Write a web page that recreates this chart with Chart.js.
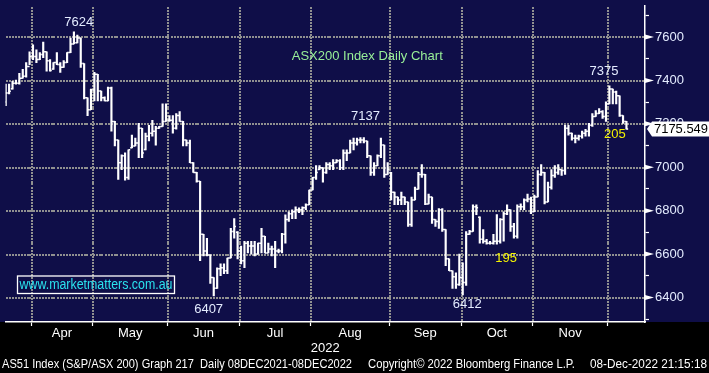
<!DOCTYPE html>
<html>
<head>
<meta charset="utf-8">
<script src="https://cdn.jsdelivr.net/npm/chart.js@4.4.0/dist/chart.umd.min.js"></script>
<style>
  body { margin: 0; background: #000; }
  canvas { display: block; }
</style>
</head>
<body>
<canvas id="chart" width="709" height="373"></canvas>
<script>
// daily bars, 22 Mar 2022 .. 8 Dec 2022
const opens = [
  7300,7342,7362,7387,7387,7410,7419,7464,
  7510,7510,7496,7519,7532,7491,7452,7482,7473,7460,7482,7528,7568,7573,7595,7478,7320,7265,
  7356,7428,7351,7320,7306,7365,7211,7125,7021,7053,6953,7090,7098,7112,7179,7082,7143,7157,7166,7179,7188,7211,
  7216,7216,7179,7238,7211,7125,7112,7021,6976,6935,6691,6614,6596,6492,6442,6532,6537,6523,6582,6704,6700,
  6614,6569,6650,6637,6637,6600,6650,6682,6605,6623,6623,6614,6614,6691,6759,6786,6795,6804,6804,6813,6827,
  6895,6953,6990,6998,6976,7012,7007,7021,7030,6998,7066,7066,7112,7112,7125,7125,7121,7053,6976,7007,7053,7102,6967,
  6976,6885,6863,6849,6863,6840,6736,6849,6899,6967,6967,6831,6863,6759,6750,6804,6713,6578,6523,6496,6460,
  6492,6469,6691,6704,6818,6770,6668,6659,6650,6650,6659,6659,6759,6786,6804,6727,6682,6818,6818,6849,6854,
  6795,6863,6967,6976,6840,6908,6962,6976,6989,6985,7179,7157,7134,7134,7143,7157,7166,7193,7234,7247,7256,7234,
  7292,7360,7347,7329,7238,7211
];
const highs = [
  7383,7383,7396,7401,7433,7451,7482,7532,
  7564,7541,7528,7577,7532,7496,7482,7528,7482,7491,7528,7595,7624,7609,7595,7478,7320,7360,
  7437,7428,7351,7324,7369,7369,7211,7125,7057,7066,7080,7148,7134,7202,7179,7157,7193,7216,7188,7188,7292,7292,
  7238,7238,7247,7256,7211,7125,7125,7021,6976,6935,6691,6673,6596,6492,6537,6555,6555,6582,6718,6763,6704,
  6637,6659,6659,6659,6659,6650,6718,6682,6650,6637,6659,6623,6695,6781,6795,6804,6818,6813,6818,6831,6895,
  6953,7007,7007,6998,7021,7021,7035,7035,7035,7080,7080,7125,7134,7134,7137,7137,7121,7053,7021,7057,7134,7102,7021,
  6976,6885,6863,6885,6863,6840,6863,6908,6976,7012,6967,6876,6863,6759,6809,6809,6713,6578,6523,6514,6600,
  6560,6704,6709,6827,6827,6772,6713,6668,6659,6691,6782,6763,6795,6827,6804,6741,6827,6831,6854,6876,6863,
  6872,6985,7012,6976,6931,6989,7007,7012,6989,7193,7193,7157,7148,7148,7166,7175,7202,7247,7261,7270,7261,7301,
  7375,7360,7351,7329,7238,7211
];
const lows = [
  7283,7338,7360,7383,7383,7410,7415,7473,
  7496,7482,7496,7505,7442,7442,7451,7473,7437,7460,7482,7528,7568,7573,7460,7315,7238,7265,
  7306,7306,7306,7306,7306,7166,7098,6944,6989,6940,6944,7089,7098,7044,7044,7080,7121,7143,7102,7179,7188,7211,
  7211,7157,7175,7211,7098,7098,7021,6976,6931,6569,6591,6591,6465,6407,6442,6501,6510,6510,6582,6673,6578,
  6555,6537,6605,6600,6591,6600,6605,6605,6605,6591,6537,6605,6605,6650,6750,6763,6763,6791,6782,6804,6827,
  6895,6944,6989,6931,6971,6989,6989,7021,6989,6989,7030,7066,7080,7102,7112,7112,7044,6962,6962,7007,7044,6953,6967,
  6849,6827,6827,6827,6827,6727,6727,6849,6899,6953,6827,6831,6741,6727,6718,6704,6546,6523,6442,6442,6456,
  6412,6456,6691,6704,6782,6650,6650,6646,6646,6646,6646,6650,6659,6782,6704,6673,6673,6804,6804,6840,6786,
  6795,6863,6962,6831,6840,6899,6953,6967,6962,6967,7148,7125,7112,7125,7134,7143,7143,7188,7234,7247,7225,7211,
  7292,7292,7292,7234,7202,7175
];
const closes = [
  7342,7350,7387,7387,7410,7419,7464,7510,
  7510,7496,7519,7532,7491,7446,7482,7473,7460,7482,7528,7568,7573,7595,7478,7320,7265,7356,
  7428,7351,7320,7306,7365,7211,7125,7021,7053,6953,7080,7098,7112,7179,7066,7143,7157,7166,7179,7188,7211,7216,
  7216,7179,7238,7211,7125,7112,7021,6976,6935,6691,6614,6596,6492,6442,6532,6537,6523,6582,6704,6727,6614,
  6569,6650,6637,6637,6600,6650,6682,6605,6623,6623,6614,6614,6691,6759,6786,6795,6804,6804,6813,6827,6895,
  6953,6976,6998,6976,7012,7007,7021,7030,6998,7066,7066,7112,7112,7125,7125,7121,7053,6976,7007,7053,7102,6967,6989,
  6885,6863,6849,6863,6840,6736,6849,6899,6967,6967,6831,6863,6759,6750,6804,6713,6578,6523,6496,6460,6492,
  6469,6691,6704,6818,6813,6668,6659,6650,6650,6659,6659,6759,6786,6804,6727,6682,6818,6818,6849,6854,6795,
  6863,6967,6976,6840,6908,6962,6976,6989,6985,7179,7157,7134,7134,7143,7157,7166,7193,7234,7247,7256,7234,7292,
  7360,7347,7329,7238,7211,7175.549
];

// trading days per month shown: Mar (part), Apr .. Nov, Dec (part)
const monthNames = ['Mar', 'Apr', 'May', 'Jun', 'Jul', 'Aug', 'Sep', 'Oct', 'Nov', 'Dec'];
const monthDays = [8, 18, 22, 21, 21, 23, 21, 21, 22, 6];
const labelledMonths = ['Apr', 'May', 'Jun', 'Jul', 'Aug', 'Sep', 'Oct', 'Nov'];
const yearLabel = '2022';
const yMajorTicks = [6400, 6600, 6800, 7000, 7200, 7400, 7600];
const yMinorTicks = [6300, 6500, 6700, 6900, 7100, 7300, 7500, 7700];

const notes = [
  { text: '7624', x: 21.4, y: 7668, color: '#e4ecff' },
  { text: 'ASX200 Index Daily Chart', x: 106, y: 7510, color: '#98f098' },
  { text: '7137', x: 105.5, y: 7236, color: '#e4ecff' },
  { text: '7375', x: 175.4, y: 7442, color: '#e4ecff' },
  { text: '205', x: 178.6, y: 7150, color: '#f2f200' },
  { text: '195', x: 146.7, y: 6579, color: '#f2f200' },
  { text: '6407', x: 59.5, y: 6346, color: '#e4ecff' },
  { text: '6412', x: 135.3, y: 6366, color: '#e4ecff' }
];

// month boundaries (grid) and month centres (labels)
const bounds = [];
const mids = [];
let acc = 0;
monthDays.forEach((n, k) => {
  if (k > 0) bounds.push(acc - 0.5);
  if (labelledMonths.includes(monthNames[k])) mids.push({ v: acc - 0.5 + n / 2, name: monthNames[k] });
  acc += n;
});

const GRID = '#909090';
const NAVY = '#0f0e48';
const FONT = '"Liberation Sans", Arial, sans-serif';

function dotted(ctx, x1, y1, x2, y2) {
  // small square dots every 3px
  const len = Math.hypot(x2 - x1, y2 - y1);
  for (let d = 0; d < len; d += 3) {
    const t = d / len;
    ctx.fillRect(Math.round(x1 + (x2 - x1) * t), Math.round(y1 + (y2 - y1) * t), 2, 2);
  }
}

const backdrop = {
  id: 'backdrop',
  beforeDraw(chart) {
    const { ctx, chartArea } = chart;
    const xs = chart.scales.x, ys = chart.scales.y;
    ctx.save();
    ctx.fillStyle = '#000';
    ctx.fillRect(0, 0, chart.width, chart.height);
    ctx.fillStyle = NAVY;
    ctx.fillRect(0, 0, chart.width, chartArea.bottom);
    // dotted grid
    ctx.fillStyle = GRID;
    bounds.forEach(b => {
      const px = xs.getPixelForValue(b) - 0.5;
      dotted(ctx, px, chartArea.top + 1, px, chartArea.bottom - 2);
    });
    yMajorTicks.forEach(v => {
      const py = ys.getPixelForValue(v) - 0.5;
      dotted(ctx, chartArea.left, py, chartArea.right - 2, py);
    });
    ctx.restore();
  },
  afterDraw(chart) {
    const { ctx, chartArea } = chart;
    const xs = chart.scales.x, ys = chart.scales.y;
    const ax = chartArea.right;
    ctx.save();

    // arrow markers on the price axis
    ctx.fillStyle = '#fff';
    yMajorTicks.forEach(v => {
      const py = ys.getPixelForValue(v);
      ctx.beginPath();
      ctx.moveTo(ax, py - 2.5);
      ctx.lineTo(ax + 9, py);
      ctx.lineTo(ax, py + 2.5);
      ctx.closePath();
      ctx.fill();
    });

    // last price tag
    const last = closes[closes.length - 1];
    const ly = ys.getPixelForValue(last);
    ctx.beginPath();
    ctx.moveTo(ax + 2, ly);
    ctx.lineTo(ax + 7, ly - 7.5);
    ctx.lineTo(chart.width, ly - 7.5);
    ctx.lineTo(chart.width, ly + 7.5);
    ctx.lineTo(ax + 7, ly + 7.5);
    ctx.closePath();
    ctx.fill();
    ctx.fillStyle = '#000';
    ctx.font = '13px ' + FONT;
    ctx.textBaseline = 'middle';
    ctx.textAlign = 'left';
    ctx.fillText(last.toFixed(3), ax + 9, ly + 0.5, chart.width - ax - 10);

    // chart notes
    ctx.textAlign = 'center';
    notes.forEach(n => {
      ctx.fillStyle = n.color;
      ctx.fillText(n.text, xs.getPixelForValue(n.x), ys.getPixelForValue(n.y));
    });

    // month labels and year under the time axis
    ctx.fillStyle = '#fff';
    mids.forEach(m => ctx.fillText(m.name, xs.getPixelForValue(m.v), chartArea.bottom + 11));
    ctx.fillText(yearLabel, (chartArea.left + chartArea.right) / 2, chartArea.bottom + 26);

    // watermark
    ctx.strokeStyle = '#fff';
    ctx.lineWidth = 1.3;
    ctx.strokeRect(17.5, 276, 157, 17.5);
    ctx.fillStyle = '#2ae2ee';
    ctx.font = '14px ' + FONT;
    ctx.fillText('www.marketmatters.com.au', 96, 285.5, 153);

    // footer
    ctx.fillStyle = '#fff';
    ctx.textAlign = 'left';
    ctx.font = '12px ' + FONT;
    ctx.fillText('AS51 Index (S&P/ASX 200) Graph 217  Daily 08DEC2021-08DEC2022', 2, 365, 350);
    ctx.fillText('Copyright\u00a9 2022 Bloomberg Finance L.P.', 368, 365, 207);
    ctx.fillText('08-Dec-2022 21:15:18', 590, 365, 117);
    ctx.restore();
  }
};

new Chart(document.getElementById('chart'), {
  type: 'bar',
  data: {
    datasets: [
      {
        type: 'bar',
        data: highs.map((h, i) => ({ x: i, y: [lows[i], h] })),
        backgroundColor: '#fff',
        barThickness: 1.5,
        grouped: false
      },
      {
        type: 'line',
        data: opens.map((o, i) => ({ x: i - 0.25, y: o })),
        showLine: false,
        pointStyle: 'line',
        pointRadius: 0.86,
        borderColor: '#fff',
        borderWidth: 1.5
      },
      {
        type: 'line',
        data: closes.map((c, i) => ({ x: i + 0.25, y: c })),
        showLine: false,
        pointStyle: 'line',
        pointRadius: 0.86,
        borderColor: '#fff',
        borderWidth: 1.5
      }
    ]
  },
  options: {
    responsive: false,
    animation: false,
    events: [],
    layout: { padding: 0 },
    plugins: { legend: { display: false }, tooltip: { enabled: false } },
    scales: {
      x: {
        type: 'linear',
        min: -0.06,
        max: 187.44,
        offset: false,
        afterBuildTicks(scale) {
          scale.ticks = bounds.map(v => ({ value: v }));
        },
        afterFit(scale) {
          scale.height = 51;
          scale.paddingLeft = 0;
          scale.paddingRight = 0;
        },
        grid: {
          offset: false,
          drawOnChartArea: false,
          tickColor: '#fff',
          tickLength: 4,
          tickWidth: 1.2
        },
        border: { display: true, color: '#fff', width: 1.5 },
        ticks: { display: false, autoSkip: false }
      },
      y: {
        type: 'linear',
        position: 'right',
        min: 6287,
        max: 7745,
        afterBuildTicks(scale) {
          scale.ticks = yMajorTicks.concat(yMinorTicks).sort((a, b) => a - b).map(v => ({ value: v }));
        },
        afterFit(scale) {
          scale.width = 64;
          scale.paddingTop = 0;
          scale.paddingBottom = 0;
        },
        grid: {
          drawOnChartArea: false,
          tickColor: '#fff',
          tickLength: 4,
          tickWidth: 1.2
        },
        border: { display: true, color: '#fff', width: 1.5 },
        ticks: {
          padding: 6,
          color: '#e4ecff',
          font: { family: FONT, size: 13 },
          callback: v => (yMajorTicks.includes(v) ? String(v) : '')
        }
      }
    }
  },
  plugins: [backdrop]
});
</script>
</body>
</html>
